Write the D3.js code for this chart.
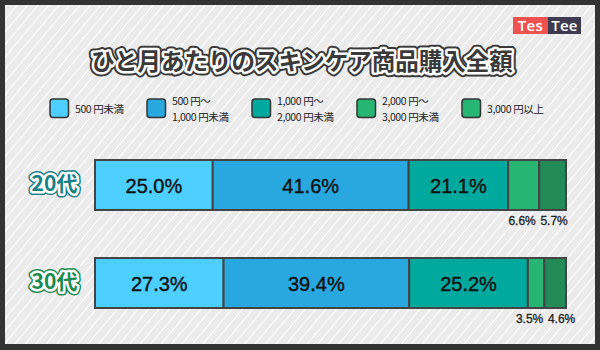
<!DOCTYPE html>
<html><head><meta charset="utf-8">
<script src="https://cdn.jsdelivr.net/npm/d3@7"></script>
<style>html,body{margin:0;padding:0;background:#333;}svg{display:block;}</style>
</head><body>
<svg id="chart" width="600" height="350"></svg>
<script>
const title = "ひと月あたりのスキンケア商品購入全額";
const categories = ["20代", "30代"];
const seriesNames = [["500 円未満"], ["500 円〜", "1,000 円未満"], ["1,000 円〜", "2,000 円未満"], ["2,000 円〜", "3,000 円未満"], ["3,000 円以上"]];
const values20s = [25.0, 41.6, 21.1, 6.6, 5.7];
const values30s = [27.3, 39.4, 25.2, 3.5, 4.6];
const barColors = ["#4dcfff", "#29a8e0", "#00a99d", "#27b574", "#238b58"];
const legendColors = ["#4dcfff", "#29a8e0", "#00a99d", "#27b574", "#27b574"];
const categoryColors = ["#1a8088", "#1b8a4e"];
const tableData = [values20s, values30s];

const svg = d3.select("#chart");
const defs = svg.append("defs");
const pat = defs.append("pattern").attr("id", "stripes").attr("patternUnits", "userSpaceOnUse")
  .attr("width", 8).attr("height", 8).attr("patternTransform", "rotate(40)");
pat.append("rect").attr("width", 8).attr("height", 8).attr("fill", "#ebebeb");
pat.append("line").attr("x1", 0).attr("y1", 0).attr("x2", 0).attr("y2", 8)
  .attr("stroke", "#ffffff").attr("stroke-width", 2);

svg.append("rect").attr("width", 600).attr("height", 350).attr("fill", "#333333");
svg.append("rect").attr("x", 5).attr("y", 5).attr("width", 590).attr("height", 339).attr("fill", "url(#stripes)");

// Logo
const logo = svg.append("g");
logo.append("rect").attr("x", 513).attr("y", 17).attr("width", 35).attr("height", 17).attr("fill", "#ef5350");
logo.append("rect").attr("x", 548).attr("y", 17).attr("width", 33).attr("height", 17).attr("fill", "#3e3a50");
logo.append("text").attr("x", 530.5).attr("y", 31).attr("text-anchor", "middle").attr("fill", "#fff")
  .style("font", "600 15px 'Open Sans', sans-serif").style("letter-spacing", "0.3px").text("Tes");
logo.append("text").attr("x", 564.5).attr("y", 31).attr("text-anchor", "middle").attr("fill", "#fff")
  .style("font", "600 15px 'Open Sans', sans-serif").style("letter-spacing", "0.3px").text("Tee");

// Title with outline
function outlinedText(g, x, y, txt, font, fill, inner, outer, wIn, wOut) {
  [[outer, wOut], [inner, wIn]].forEach(([c, w]) => {
    g.append("text").attr("x", x).attr("y", y).attr("text-anchor", "middle").attr("dominant-baseline", "central")
      .style("font", font).attr("fill", c).attr("stroke", c).attr("stroke-width", w)
      .attr("stroke-linejoin", "round").text(txt);
  });
  g.append("text").attr("x", x).attr("y", y).attr("text-anchor", "middle").attr("dominant-baseline", "central")
    .style("font", font).attr("fill", fill).text(txt);
}
outlinedText(svg.append("g"), 302, 60, title, "bold 23.5px 'Noto Sans CJK JP', sans-serif", "#3a3a3a", "#ffffff", "#3a3a3a", 5, 9);

// Legend
const legendX = [50, 147, 252, 357, 462];
const lg = svg.append("g");
seriesNames.forEach((name, i) => {
  lg.append("rect").attr("x", legendX[i]).attr("y", 99).attr("width", 18.5).attr("height", 18.5).attr("rx", 3)
    .attr("fill", legendColors[i]).attr("stroke", "#333").attr("stroke-width", 1.5);
  const y0 = name.length === 1 ? 108.5 : 101 - 0.3;
  name.forEach((ln, j) => {
    lg.append("text").attr("x", legendX[i] + 25).attr("y", y0 + j * 15.5).attr("fill", "#222")
      .attr("dominant-baseline", "central")
      .style("font", "10.5px 'Noto Sans CJK JP', sans-serif").style("letter-spacing", "-0.4px").text(ln);
  });
});

// Scales
const x = d3.scaleLinear().domain([0, 100]).range([95, 566]);
const y = d3.scaleBand().domain(categories).range([160, 308]).paddingInner(0.49).paddingOuter(0);

categories.forEach((cat, ci) => {
  const vals = tableData[ci];
  const g = svg.append("g");
  let cum = 0;
  const segs = vals.map((v, i) => { const s = { v, i, x0: cum, x1: cum + v }; cum += v; return s; });
  g.selectAll("rect.seg").data(segs).enter().append("rect")
    .attr("x", d => x(d.x0)).attr("y", y(cat))
    .attr("width", d => x(d.x1) - x(d.x0)).attr("height", y.bandwidth())
    .attr("fill", d => barColors[d.i]).attr("stroke", "#444").attr("stroke-width", 2);
  // large labels inside
  segs.filter(d => d.v >= 10).forEach(d => {
    g.append("text").attr("x", x((d.x0 + d.x1) / 2)).attr("y", y(cat) + y.bandwidth() / 2 + 1)
      .attr("text-anchor", "middle").attr("dominant-baseline", "central").attr("fill", "#111")
      .attr("stroke", "#111").attr("stroke-width", 0.4)
      .style("font", "20px 'Liberation Sans', Arial, sans-serif").text(d.v.toFixed(1) + "%");
  });
  // small labels below, spread apart
  const small = segs.filter(d => d.v < 10).map(d => ({ d, cx: x((d.x0 + d.x1) / 2) }));
  for (let k = 1; k < small.length; k++) {
    const gap = small[k].cx - small[k - 1].cx;
    if (gap < 32) { const mid = (small[k].cx + small[k - 1].cx) / 2; small[k - 1].cx = mid - 16; small[k].cx = mid + 16; }
  }
  small.forEach(s => {
    g.append("text").attr("x", s.cx).attr("y", y(cat) + y.bandwidth() + 11)
      .attr("text-anchor", "middle").attr("dominant-baseline", "central").attr("fill", "#222")
      .attr("stroke", "#222").attr("stroke-width", 0.3)
      .style("font", "12px 'Liberation Sans', Arial, sans-serif").text(s.d.v.toFixed(1) + "%");
  });
  // category badge
  outlinedText(svg.append("g"), 54.5, y(cat) + y.bandwidth() / 2 - 3, cat,
    "bold 21px 'Noto Sans CJK JP', sans-serif", categoryColors[ci], "#ffffff", categoryColors[ci], 5, 8);
});
</script>
</body></html>
